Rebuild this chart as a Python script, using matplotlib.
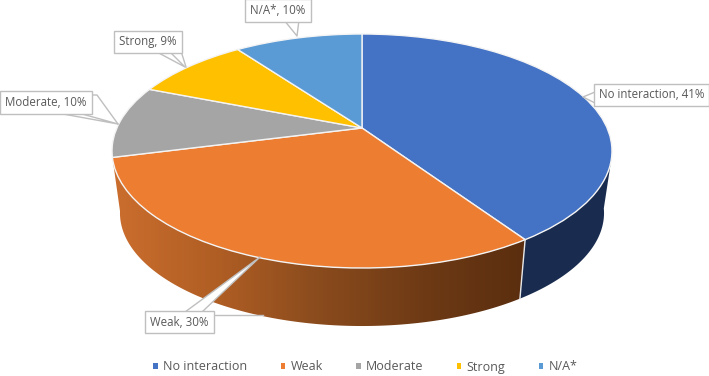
import numpy as np
import matplotlib
matplotlib.use("Agg")
import matplotlib.pyplot as plt
from matplotlib.transforms import Transform
from matplotlib.patches import Polygon
from matplotlib.colors import LinearSegmentedColormap

categories = ["No interaction", "Weak", "Moderate", "Strong", "N/A*"]
values = [40.6, 30.4, 10.0, 9.0, 10.0]
colors = ["#4472C4", "#ED7D31", "#A5A5A5", "#FFC000", "#5B9BD5"]
label_text = [f"{c}, {round(v)}%" for c, v in zip(categories, values)]

plt.rcParams["font.family"] = ["Open Sans", "DejaVu Sans"]
TEXT = "#595959"
BORDER = "#BFBFBF"

# perspective view of the disc: top face and bottom face
TOP = dict(cx=362.0, cy=151.0, a=245.1, b=117.0, off=-23.0, k=0.1966)
BOT = dict(cx=362.0, cy=213.0, a=237.3, b=113.0, off=-22.2, k=0.1966)


def project(x, y, p):
    d = 1 + p["k"] * y
    return p["cx"] + p["a"] * x / d, p["cy"] + (p["off"] - p["b"] * y) / d


class Persp(Transform):
    input_dims = output_dims = 2
    is_separable = False
    has_inverse = False

    def __init__(self, p):
        super().__init__()
        self.p = p

    def transform_non_affine(self, xy):
        xy = np.asarray(xy, float)
        X, Y = project(xy[:, 0], xy[:, 1], self.p)
        return np.column_stack([X, Y])


def wall(t_top, t_bot, t_end):
    a_th = np.radians(np.linspace(t_top, t_end, 160))
    b_th = np.radians(np.linspace(t_bot, t_end, 160))
    a = np.column_stack(project(np.cos(a_th), np.sin(a_th), TOP))
    b = np.column_stack(project(np.cos(b_th), np.sin(b_th), BOT))
    return np.vstack([a, b[::-1]])


fig = plt.figure(figsize=(7.09, 3.76), dpi=100)
ax = fig.add_axes([0, 0, 1, 1])

wedges, _ = ax.pie(values, colors=colors, startangle=90, counterclock=False,
                   wedgeprops=dict(edgecolor="#F4F4F4", linewidth=1.0))
ax.set_aspect("auto")
persp = Persp(TOP)
for w in wedges:
    w.set_transform(persp + ax.transData)
    w.set_zorder(5)

# side walls (only slices facing the viewer)
blue_wall = wedges[0]
ax.add_patch(Polygon(wall(-16, -9, blue_wall.theta1), closed=True, fc="#192C4F", ec="none", zorder=2))

orange = wedges[1]
cmap = LinearSegmentedColormap.from_list(
    "wall", ["#CB6E2E", "#B05E24", "#8A4B1D", "#6E3A15", "#5A2E0F"])
img = ax.imshow(np.linspace(0, 1, 256)[None, :], cmap=cmap, aspect="auto",
                extent=(112, 527, 340, 150), zorder=2)
clip = Polygon(wall(orange.theta1, orange.theta1 - 4, orange.theta2), closed=True, transform=ax.transData)
img.set_clip_path(clip)
ax.set_xlim(0, 709)
ax.set_ylim(376, 0)
ax.axis("off")

# seam between the two walls
t = np.radians(orange.theta2)
sx = project(np.cos(t), np.sin(t), TOP)
sb = project(np.cos(t), np.sin(t), BOT)
ax.plot([sx[0], sb[0]], [sx[1], sb[1]], color="#E8E8E8", lw=1.0, zorder=3)

# leader outlines
leaders = [
    [(595, 92), (583, 97), (595, 103)],
    [(185, 312), (260, 257), (202, 312)],
    [(213, 315), (263, 315)],
    [(52, 112), (118, 124), (75, 112)],
    [(90, 95), (97, 95), (118, 124)],
    [(155, 51), (185, 67), (170, 52)],
    [(175, 51), (181, 51), (186, 67)],
    [(284, 20), (297, 36), (299, 20)],
]
white_fill = [[(185, 312), (260, 257), (202, 312)]]
for pts in white_fill:
    ax.add_patch(Polygon(pts, closed=True, fc="white", ec="none", zorder=6))
for pts in leaders:
    xs, ys = zip(*pts)
    ax.plot(xs, ys, color=BORDER, lw=1.0, zorder=7)

# data labels
label_pos = [(651.5, 95), (179.5, 322), (46, 102.5), (148, 42), (278, 10.5)]
for s, (x, y) in zip(label_text, label_pos):
    ax.text(x, y, s, ha="center", va="center", fontsize=8.3, color=TEXT, zorder=8,
            bbox=dict(boxstyle="square,pad=0.42", fc="white", ec=BORDER, lw=1.0))

leg = ax.legend(wedges, categories, loc="center", bbox_to_anchor=(365.5 / 709, 1 - 367 / 376),
                ncol=5, frameon=False, fontsize=9.0, labelcolor=TEXT, handlelength=0.35,
                handleheight=0.35, handletextpad=0.45, columnspacing=2.65, borderpad=0)
for h in leg.legend_handles:
    h.set_linewidth(0)

fig.savefig("out.png", dpi=100)
